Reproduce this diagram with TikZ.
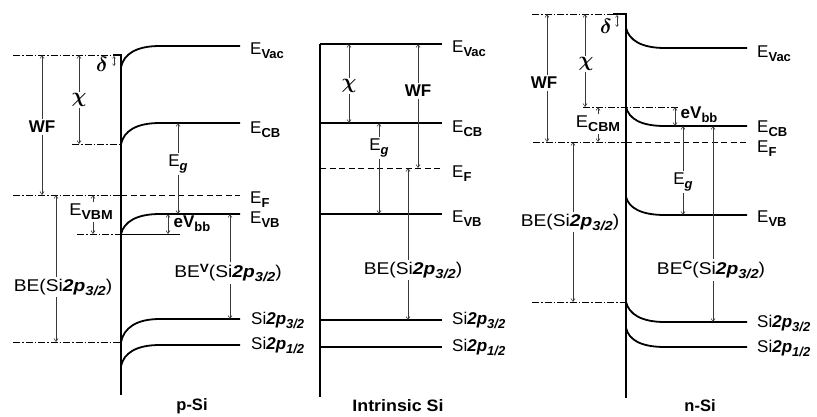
\documentclass[tikz,border=0pt]{standalone}
\usepackage{fontspec}
\usepackage{bm}
\setmainfont{Liberation Sans}
\usetikzlibrary{arrows.meta}
\newcommand{\sbx}[1]{\raisebox{-4pt}{\fontsize{13}{13}\selectfont\bfseries #1}}
\newcommand{\spx}[1]{\raisebox{5.5pt}{\fontsize{12}{12}\selectfont\bfseries #1}}
\newcommand{\lv}[1]{E\sbx{#1}}
\newcommand{\sip}[1]{Si\textbf{\itshape 2p}\sbx{\itshape #1}}
\newcommand{\wide}[1]{\scalebox{1.13}[1]{#1}}
\newcommand{\splitarrow}[4]{%
  \coordinate (#1t) at (#2,#3);
  \coordinate (#1b) at (#2,#4);
  \draw[arr] (#1.north -| #1t) -- (#1t);
  \draw[arr] (#1.south -| #1b) -- (#1b);}
\tikzset{
  band/.style={line width=1.8pt},
  axisline/.style={line width=1.4pt},
  dd/.style={line width=0.5pt, dash pattern=on 7pt off 2pt on 1.5pt off 2pt},
  fermi/.style={line width=1pt, dash pattern=on 6pt off 3.5pt},
  thinline/.style={line width=0.7pt},
  arr/.style={draw=gray!45!black, line width=0.6pt, -{Straight Barb[length=3pt,width=4pt]}},
  darr/.style={draw=gray!45!black, line width=0.6pt, {Straight Barb[length=3pt,width=4pt]}-{Straight Barb[length=3pt,width=4pt]}},
  tinyarr/.style={draw=gray!45!black, line width=0.5pt, {Straight Barb[length=2pt,width=3pt]}-{Straight Barb[length=2pt,width=3pt]}},
  lbl/.style={font=\fontsize{17}{20}\selectfont, inner sep=1.5pt},
  greek/.style={font=\fontsize{22}{24}\selectfont, inner sep=1pt},
  lev/.style={font=\fontsize{17}{20}\selectfont, inner sep=0pt, anchor=base west},
  ttl/.style={font=\fontsize{16.5}{18}\selectfont\bfseries, inner sep=0pt, anchor=base}
}
\begin{document}
\begin{tikzpicture}[x=1pt,y=-1pt]
\useasboundingbox (0,0) rectangle (817,416);

% ================= p-Si =================
\draw[axisline] (113,55) -- (121,55) -- (121,395);
\draw[dd] (13,55) -- (113,55);
\draw[dd] (72,144) -- (121,144);
\draw[dd] (13,195) -- (121,195);
\draw[dd] (77,234) -- (121,234);
\draw[dd] (13,342) -- (121,342);
\draw[fermi] (121,195) -- (240,195);
\draw[thinline] (121,234) -- (180,234);

\draw[band] (121,67) .. controls (124,54) and (136,46) .. (160,46) -- (240,46);
\draw[band] (121,144) .. controls (124,131) and (136,123) .. (160,123) -- (240,123);
\draw[band] (121,234) .. controls (124,222) and (136,214) .. (160,214) -- (240,214);
\draw[band] (121,342) .. controls (124,328) and (136,319) .. (160,319) -- (240,319);
\draw[band] (121,366) .. controls (124,353) and (136,345) .. (160,345) -- (240,345);

\node[lev] (LVac) at (250,54) {\lv{Vac}};
\node[lev] (LCB) at (250,133) {\lv{CB}};
\node[lev] (LF) at (250,203) {\lv{F}};
\node[lev] (LVB) at (250,223) {\lv{VB}};
\node[lev] (LS3) at (251,324) {\sip{3/2}};
\node[lev] (LS1) at (251,349) {\sip{1/2}};
\node[ttl] (Lttl) at (192,410) {p-Si};

\node[greek] (Ldelta) at (102,64) {$\bm\delta$};
\draw[tinyarr] (114,56) -- (114,66);
\node[lbl] (Lwf) at (42,127) {\textbf{WF}};
\splitarrow{Lwf}{42}{55}{195}
\node[greek] (Lchi) at (79,100) {$\bm\chi$};
\splitarrow{Lchi}{79}{55}{144}
\node[lbl] (Leg) at (178,164) {E\sbx{\itshape g}};
\splitarrow{Leg}{178}{123}{214}
\node[lbl] (Lvbm) at (91,212) {\scalebox{1.08}[1]{E\sbx{VBM}}};
\splitarrow{Lvbm}{93}{195}{234}
\draw[darr] (168,214) -- (168,234);
\node[lbl, anchor=west] (Lebb) at (172,224) {\textbf{eV}\sbx{bb}};
\node[lbl] (Lbev) at (228,273) {\wide{BE\spx{V}(\sip{3/2})}};
\splitarrow{Lbev}{230}{214}{319}
\node[lbl] (Lbe) at (63,287) {\wide{BE(\sip{3/2})}};
\splitarrow{Lbe}{56}{195}{342}

% ================= Intrinsic Si =================
\draw[axisline] (320,44) -- (320,397);
\draw[band] (320,44) -- (442,44);
\draw[band] (320,123) -- (442,123);
\draw[fermi] (320,168) -- (442,168);
\draw[band] (320,214) -- (442,214);
\draw[band] (320,320) -- (442,320);
\draw[band] (320,347) -- (442,347);

\node[lev] (MVac) at (452,52) {\lv{Vac}};
\node[lev] (MCB) at (452,132) {\lv{CB}};
\node[lev] (MF) at (452,177) {\lv{F}};
\node[lev] (MVB) at (452,222) {\lv{VB}};
\node[lev] (MS3) at (452,324) {\sip{3/2}};
\node[lev] (MS1) at (452,351) {\sip{1/2}};
\node[ttl] (Mttl) at (398,411) {\scalebox{1.08}[1]{Intrinsic Si}};

\node[greek] (Mchi) at (349,86) {$\bm\chi$};
\splitarrow{Mchi}{349}{44}{123}
\node[lbl] (Mwf) at (418,91) {\textbf{WF}};
\splitarrow{Mwf}{418}{44}{168}
\node[lbl] (Meg) at (379,148) {E\sbx{\itshape g}};
\splitarrow{Meg}{379}{123}{214}
\node[lbl] (Mbe) at (413,270) {\wide{BE(\sip{3/2})}};
\splitarrow{Mbe}{408}{168}{320}

% ================= n-Si =================
\draw[axisline] (613,14) -- (626,14) -- (626,398);
\draw[dd] (532,14) -- (613,14);
\draw[dd] (583,107) -- (678,107);
\draw[dd] (533,142) -- (626,142);
\draw[dd] (532,302) -- (626,302);
\draw[fermi] (626,142) -- (747,142);

\draw[band] (626,28) .. controls (629,40) and (641,48) .. (665,48) -- (747,48);
\draw[band] (626,107) .. controls (629,119) and (641,126) .. (665,126) -- (747,126);
\draw[band] (626,197) .. controls (629,208) and (641,215) .. (665,215) -- (747,215);
\draw[band] (626,302) .. controls (629,314) and (641,322) .. (665,322) -- (747,322);
\draw[band] (626,328) .. controls (629,340) and (641,347) .. (665,347) -- (747,347);

\node[lev] (RVac) at (757,57) {\lv{Vac}};
\node[lev] (RCB) at (757,132) {\lv{CB}};
\node[lev] (RF) at (757,152) {\lv{F}};
\node[lev] (RVB) at (757,222) {\lv{VB}};
\node[lev] (RS3) at (757,327) {\sip{3/2}};
\node[lev] (RS1) at (757,352) {\sip{1/2}};
\node[ttl] (Rttl) at (700,411) {n-Si};

\node[greek] (Rdelta) at (606,26) {$\bm\delta$};
\draw[tinyarr] (617,15) -- (617,27);
\node[lbl] (Rwf) at (544,83) {\textbf{WF}};
\splitarrow{Rwf}{547}{14}{142}
\node[greek] (Rchi) at (586,64) {$\bm\chi$};
\splitarrow{Rchi}{585}{14}{107}
\node[lbl] (Rcbm) at (598,124) {\scalebox{1.08}[1]{E\sbx{CBM}}};
\splitarrow{Rcbm}{598}{107}{142}
\draw[darr] (675,107) -- (675,126);
\node[lbl, anchor=west] (Rebb) at (679,115) {\textbf{eV}\sbx{bb}};
\node[lbl] (Reg) at (683,182) {E\sbx{\itshape g}};
\splitarrow{Reg}{683}{126}{215}
\node[lbl] (Rbec) at (711,270) {\wide{BE\spx{C}(\sip{3/2})}};
\splitarrow{Rbec}{713}{126}{322}
\node[lbl] (Rbe) at (570,222) {\wide{BE(\sip{3/2})}};
\splitarrow{Rbe}{573}{142}{302}
\end{tikzpicture}
\end{document}
